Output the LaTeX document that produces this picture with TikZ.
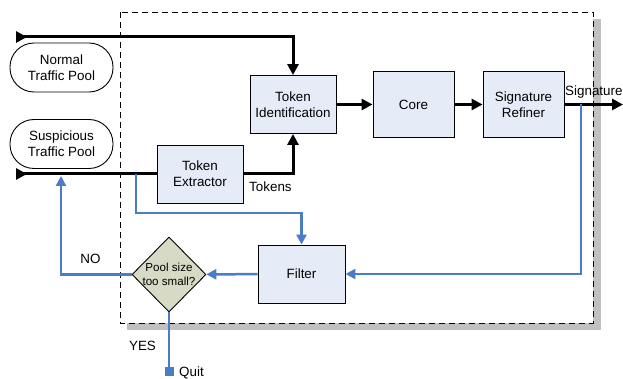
\documentclass[tikz,border=0pt]{standalone}
\usepackage{fontspec}
\setmainfont{Liberation Sans}
\usepackage{xcolor}
\usepackage{tikz}
\usetikzlibrary{arrows.meta,shapes.geometric}
\definecolor{SFBlock}{HTML}{E6ECF7}
\definecolor{SFDecide}{HTML}{D7DBC6}
\definecolor{SFBlue}{HTML}{4A7DC6}
\definecolor{SFShadow}{HTML}{C0C0C0}
\tikzset{
  block/.style={draw,fill=SFBlock,line width=0.9pt,align=center,inner sep=0pt,font=\fontsize{13.4}{16}\selectfont},
  pool/.style={draw,rounded corners=24pt,minimum width=103pt,minimum height=49pt,line width=0.9pt,align=center,inner sep=0pt,font=\fontsize{13.4}{16}\selectfont},
  decision/.style={diamond,draw,fill=SFDecide,line width=0.9pt,aspect=1,minimum width=74pt,minimum height=75pt,inner sep=-2pt,align=center,font=\fontsize{11.6}{14}\selectfont},
  lbl/.style={inner sep=0pt,font=\fontsize{13.4}{16}\selectfont},
  flowline/.style={line width=3pt,-{Triangle[length=11pt,width=11pt]}},
  fbline/.style={SFBlue,line width=2.5pt,-{Triangle[length=10pt,width=10pt]}}
}

\begin{document}
\begin{tikzpicture}[x=1pt,y=-1pt]
\path[use as bounding box] (0,0) rectangle (623,379);
\fill[SFShadow] (127,19) rectangle (601,330);
\fill[white] (120,12) rectangle (593,323);
\draw[dash pattern=on 6pt off 4pt,line width=0.9pt] (120,12) rectangle (593,323);
\node[pool] (normalpool) at (61.5,67.5) {Normal\\Traffic Pool};
\node[pool] (susppool) at (61.5,144) {Suspicious\\Traffic Pool};
\node[block,minimum width=86pt,minimum height=58pt] (tokenid) at (293,104.5) {Token\\Identification};
\node[block,minimum width=81pt,minimum height=66pt] (core) at (413.5,104.5) {Core};
\node[block,minimum width=81pt,minimum height=66pt] (refiner) at (523.5,104.5) {Signature\\Refiner};
\node[block,minimum width=86pt,minimum height=58pt] (extractor) at (200,174) {Token\\Extractor};
\node[block,minimum width=87pt,minimum height=58pt] (filter) at (301.5,274) {Filter};
\node[decision] (poolcheck) at (169,274.5) {Pool size\\too small?};
\node[lbl,anchor=west] (tokenslbl) at (249,187) {Tokens};
\node[lbl,anchor=west] (siglbl) at (565,92) {Signature};
\node[lbl] (nolbl) at (90.5,259) {NO};
\node[lbl] (yeslbl) at (142.5,346) {YES};
\node[lbl,anchor=west] (quitlbl) at (179,373) {Quit};
\coordinate (normin) at (16,37);
\coordinate (suspin) at (16,174);
\coordinate (sigout) at (623,104.5);
\coordinate (tap) at (136,174);
\coordinate (sigtap) at (581,104.5);
\coordinate (retin) at (61,176);
\coordinate (quit) at (169,376);
\draw[flowline,{Triangle[reversed,length=11pt,width=11pt]}-{Triangle[length=11pt,width=11pt]}] (normin) -| (tokenid.north);
\draw[flowline,{Triangle[reversed,length=11pt,width=11pt]}-] (suspin) -- (extractor.west);
\draw[flowline] (extractor.east) -| (tokenid.south);
\draw[flowline] (tokenid) -- (core);
\draw[flowline] (core) -- (refiner);
\draw[flowline] (refiner) -- (sigout);
\draw[fbline] (tap) -- ++(0,39) -| (filter.north);
\draw[fbline] (sigtap) |- (filter.east);
\draw[fbline] (filter) -- (poolcheck);
\draw[fbline] (poolcheck.west) -| (retin);
\draw[SFBlue,line width=2.5pt,-{Square[length=9pt,width=9pt]}] (poolcheck.south) -- (quit);
\end{tikzpicture}
\end{document}
